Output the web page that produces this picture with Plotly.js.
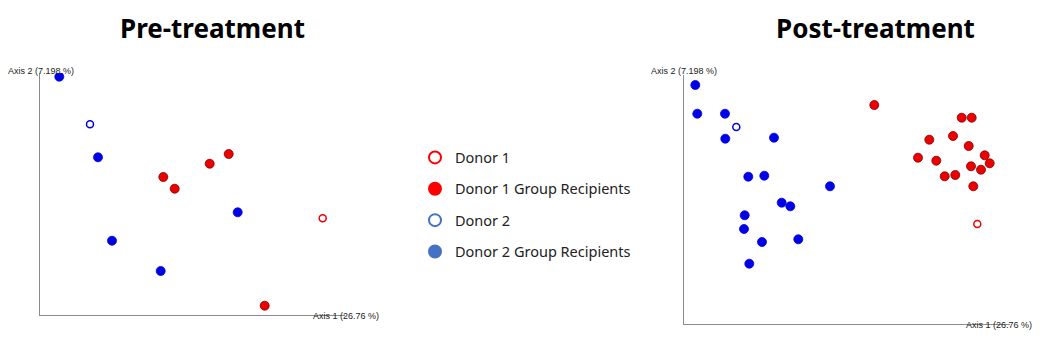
<!DOCTYPE html>
<html><head><meta charset="utf-8">
<script src="https://cdn.plot.ly/plotly-3.0.1.min.js"></script>
<style>html,body{margin:0;padding:0;background:#fff}</style>
</head><body><div id="chart" style="width:1062px;height:351px"></div>
<script>
// Pre-treatment PCoA coordinates (Axis 1, Axis 2), arbitrary units
const preD2RecX = [19.3, 58, 197.7, 72, 120.7];
const preD2RecY = [238.3, 157.7, 102.7, 74.3, 44];
const preD2X = [50];
const preD2Y = [190.7];
const preD1RecX = [188.7, 169.7, 123.3, 134.7, 224.7];
const preD1RecY = [161, 151.3, 138, 126.3, 9.3];
const preD1X = [282.7];
const preD1Y = [96.7];

// Post-treatment PCoA coordinates
const postD2RecX = [11.3, 13.3, 41, 41.3, 90, 64.3, 80.3, 146, 97.7, 106.3, 60.7, 60, 78, 114.3, 65.3];
const postD2RecY = [239, 210.3, 210.3, 185.3, 186.3, 147.3, 148.3, 137.7, 121.3, 117.7, 108.7, 95, 82, 84.7, 60.3];
const postD2X = [52.3];
const postD2Y = [197];
const postD1RecX = [190.3, 277.7, 287.7, 245.3, 269, 284.7, 234, 252.3, 300.7, 305.7, 287, 297, 260.7, 271.3, 289.3];
const postD1RecY = [219, 206.3, 206.3, 184.3, 188, 178, 166.3, 163.3, 168.7, 160.7, 157.7, 154.3, 147.7, 149, 137.7];
const postD1X = [293.3];
const postD1Y = [100];

const legendNames = ["Donor 1", "Donor 1 Group Recipients", "Donor 2", "Donor 2 Group Recipients"];
const panelTitles = ["Pre-treatment", "Post-treatment"];
const axis1Label = "Axis 1 (26.76 %)";
const axis2Label = "Axis 2 (7.198 %)";

const W = 1062, H = 351;
const RED = '#ee0000', BLUE = '#0000e6';

function filled(x, y, color, line, xa, ya) {
  return {x, y, xaxis: xa, yaxis: ya, type: 'scatter', mode: 'markers', showlegend: false, hoverinfo: 'skip',
    marker: {size: 9, color: color, line: {color: line, width: 0.8}}};
}
function open(x, y, color, xa, ya) {
  return {x, y, xaxis: xa, yaxis: ya, type: 'scatter', mode: 'markers', showlegend: false, hoverinfo: 'skip',
    marker: {size: 7, symbol: 'circle-open', color: color, line: {color: color, width: 1.5}}};
}
function leg(name, symbol, color, i) {
  return {x: [null], y: [null], xaxis: 'x', yaxis: 'y', type: 'scatter', mode: 'markers', name: name,
    legendgroup: 'g' + i, showlegend: true,
    marker: {size: 12, symbol: symbol, color: color, line: {color: color, width: 1.5}}};
}

const traces = [
  filled(preD2RecX, preD2RecY, BLUE, BLUE, 'x', 'y'),
  open(preD2X, preD2Y, BLUE, 'x', 'y'),
  filled(preD1RecX, preD1RecY, RED, '#7a0000', 'x', 'y'),
  open(preD1X, preD1Y, RED, 'x', 'y'),
  filled(postD2RecX, postD2RecY, BLUE, BLUE, 'x2', 'y2'),
  open(postD2X, postD2Y, BLUE, 'x2', 'y2'),
  filled(postD1RecX, postD1RecY, RED, '#7a0000', 'x2', 'y2'),
  open(postD1X, postD1Y, RED, 'x2', 'y2'),
  leg(legendNames[0], 'circle-open', '#ff0000', 0),
  leg(legendNames[1], 'circle', '#ff0000', 1),
  leg(legendNames[2], 'circle-open', '#4472c4', 2),
  leg(legendNames[3], 'circle', '#4472c4', 3)
];

const axBase = {showgrid: false, zeroline: false, showticklabels: false, ticks: '', showline: true,
  linecolor: '#8c8c8c', linewidth: 1, fixedrange: true};

const layout = {
  width: W, height: H, margin: {l: 0, r: 0, t: 0, b: 0},
  paper_bgcolor: '#fff', plot_bgcolor: 'rgba(0,0,0,0)',
  showlegend: true,
  legend: {x: 415 / W, y: 1 - 141.5 / H, xanchor: 'left', yanchor: 'top', tracegroupgap: 9.5,
    font: {family: 'Noto Sans, sans-serif', size: 14.5, color: '#222'}, itemsizing: 'constant', bgcolor: 'rgba(0,0,0,0)'},
  xaxis: Object.assign({}, axBase, {domain: [40 / W, 345 / W], range: [0, 305], anchor: 'y'}),
  yaxis: Object.assign({}, axBase, {domain: [1 - 315 / H, 1 - 73 / H], range: [0, 242], anchor: 'x'}),
  xaxis2: Object.assign({}, axBase, {domain: [684 / W, 1010 / W], range: [0, 326], anchor: 'y2'}),
  yaxis2: Object.assign({}, axBase, {domain: [1 - 324 / H, 1 - 75 / H], range: [0, 249], anchor: 'x2'}),
  annotations: [
    {text: '<b>' + panelTitles[0] + '</b>', xref: 'paper', yref: 'paper', x: 212 / W, y: 1 - 28 / H, showarrow: false,
      xanchor: 'center', yanchor: 'middle', font: {family: 'Noto Sans, sans-serif', size: 26, color: '#000'}},
    {text: '<b>' + panelTitles[1] + '</b>', xref: 'paper', yref: 'paper', x: 875 / W, y: 1 - 28 / H, showarrow: false,
      xanchor: 'center', yanchor: 'middle', font: {family: 'Noto Sans, sans-serif', size: 26, color: '#000'}},
    {text: axis2Label, xref: 'paper', yref: 'paper', x: 6 / W, y: 1 - 71 / H, showarrow: false, xanchor: 'left', yanchor: 'middle',
      font: {family: 'Liberation Sans, Arial, sans-serif', size: 9, color: '#222'}},
    {text: axis1Label, xref: 'paper', yref: 'paper', x: 311 / W, y: 1 - 316 / H, showarrow: false, xanchor: 'left', yanchor: 'middle',
      font: {family: 'Liberation Sans, Arial, sans-serif', size: 9, color: '#222'}},
    {text: axis2Label, xref: 'paper', yref: 'paper', x: 649 / W, y: 1 - 71 / H, showarrow: false, xanchor: 'left', yanchor: 'middle',
      font: {family: 'Liberation Sans, Arial, sans-serif', size: 9, color: '#222'}},
    {text: axis1Label, xref: 'paper', yref: 'paper', x: 964 / W, y: 1 - 325 / H, showarrow: false, xanchor: 'left', yanchor: 'middle',
      font: {family: 'Liberation Sans, Arial, sans-serif', size: 9, color: '#222'}}
  ]
};

Plotly.newPlot('chart', traces, layout, {staticPlot: true, displayModeBar: false});
</script></body></html>
